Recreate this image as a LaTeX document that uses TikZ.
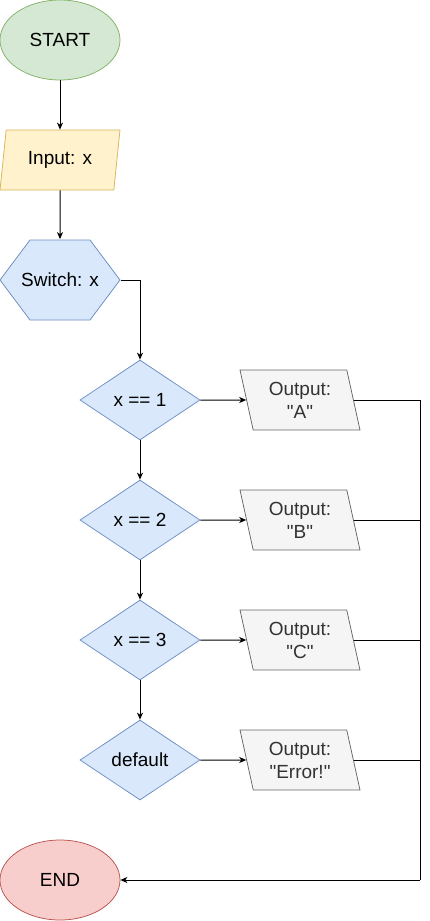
\documentclass[tikz,border=0pt]{standalone}
\usepackage{fontspec}
\setmainfont{Liberation Sans}
\usetikzlibrary{shapes.geometric}
\usetikzlibrary{arrows.meta}
\definecolor{startfill}{HTML}{D5E8D4}
\definecolor{startline}{HTML}{82B366}
\definecolor{infill}{HTML}{FFF2CC}
\definecolor{inline}{HTML}{D6B656}
\definecolor{testfill}{HTML}{DAE8FC}
\definecolor{testline}{HTML}{6C8EBF}
\definecolor{outfill}{HTML}{F5F5F5}
\definecolor{outline}{HTML}{666666}
\definecolor{outtext}{HTML}{333333}
\definecolor{endfill}{HTML}{F8CECC}
\definecolor{endline}{HTML}{B85450}
\tikzstyle{entry}=[draw, line width=0.75pt, align=center, inner sep=0pt, font=\fontsize{19}{23}\selectfont]
\tikzstyle{term} = [entry, ellipse, minimum width=120pt, minimum height=80pt]
\tikzstyle{inbox} = [entry, trapezium, trapezium left angle=70, trapezium right angle=110, trapezium stretches body, minimum width=120pt, minimum height=60pt, fill=infill, draw=inline]
\tikzstyle{switchbox} = [entry, draw=none, rectangle, minimum width=121pt, minimum height=81pt,
  path picture={\draw [fill=testfill, draw=testline, line width=0.75pt]
    ([xshift=0.5pt]path picture bounding box.west)
    -- ([xshift=30.5pt, yshift=-0.5pt]path picture bounding box.north west)
    -- ([xshift=-30.5pt, yshift=-0.5pt]path picture bounding box.north east)
    -- ([xshift=-0.5pt]path picture bounding box.east)
    -- ([xshift=-30.5pt, yshift=0.5pt]path picture bounding box.south east)
    -- ([xshift=30.5pt, yshift=0.5pt]path picture bounding box.south west) -- cycle;}]
\tikzstyle{test} = [entry, diamond, aspect=1.5, minimum width=120pt, minimum height=80pt, fill=testfill, draw=testline]
\tikzstyle{outbox} = [entry, trapezium, trapezium left angle=110, trapezium right angle=70, trapezium stretches body, minimum width=120pt, minimum height=60pt, fill=outfill, draw=outline, text=outtext]
\tikzstyle{link} = [-{Stealth[length=7pt,width=6pt,inset=2pt]}, line width=1pt]

\begin{document}
\begin{tikzpicture}
\useasboundingbox (0,0) rectangle (429pt,-921pt);
\node (start) at (60pt,-40pt) [term, fill=startfill, draw=startline] {START};

\node (input) [yshift=-120pt] at (start) [inbox] {Input: x};
\node (switch) [yshift=-120pt] at (input) [switchbox] {Switch: x};

\node (case1) [xshift=+80pt, yshift=-120pt] at (switch) [test] {x == 1};
\node (case2) [yshift=-120pt] at (case1) [test] {x == 2};
\node (case3) [yshift=-120pt] at (case2) [test] {x == 3};
\node (casedef) [yshift=-120pt] at (case3) [test] {default};

\node (outA) [xshift=+160pt] at (case1) [outbox] {Output:\\\textquotedbl A\textquotedbl};
\node (outB) [xshift=+160pt] at (case2) [outbox] {Output:\\\textquotedbl B\textquotedbl};
\node (outC) [xshift=+160pt] at (case3) [outbox] {Output:\\\textquotedbl C\textquotedbl};
\node (outdef) [xshift=+160pt] at (casedef) [outbox] {Output:\\\textquotedbl Error!\textquotedbl};

\node (end) [xshift=-80pt, yshift=-120pt] at (casedef) [term, fill=endfill, draw=endline] {END};
\coordinate (rail) at (420pt,-880pt);

\draw [link] (start) -- (input);
\draw [link] (input) -- (switch);
\draw [link] (switch) -| (case1);
\draw [link] (case1) -- (case2);
\draw [link] (case2) -- (case3);
\draw [link] (case3) -- (casedef);

\draw [link] (case1) -- (outA);
\draw [link] (case2) -- (outB);
\draw [link] (case3) -- (outC);
\draw [link] (casedef) -- (outdef);

\draw [line width=1pt] (outA) -| (rail);
\draw [line width=1pt] (outB) -| (rail);
\draw [line width=1pt] (outC) -| (rail);
\draw [line width=1pt] (outdef) -| (rail);
\draw [link] (rail) -- (end);

\end{tikzpicture}
\end{document}
